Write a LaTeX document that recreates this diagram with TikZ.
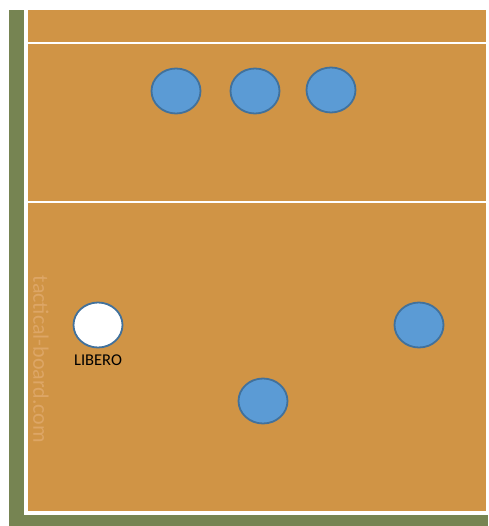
\documentclass[tikz,border=0pt]{standalone}
\usepackage{fontspec}
\setmainfont{Carlito}
\usetikzlibrary{shapes.geometric,positioning}
\definecolor{court}{RGB}{208,148,69}
\definecolor{courtmark}{RGB}{221,166,102}
\definecolor{surround}{RGB}{118,132,82}
\definecolor{playerfill}{RGB}{91,155,213}
\definecolor{playerline}{RGB}{65,113,156}
\begin{document}
\begin{tikzpicture}[x=1pt,y=-1pt]
	% styles
	\tikzstyle{player} += [ellipse,draw=playerline,line width=1.8pt,fill=playerfill,
		minimum width=49pt,minimum height=45pt,inner sep=0pt]
	\tikzstyle{libero} += [player,fill=white]
	\tikzstyle{courtline} += [draw=white,line width=2pt]
	
	% bounding box
	\fill[white] (0,0) rectangle (488,526);
	
	% surround, border line and court
	\fill[surround] (9,10) rectangle (488,526);
	\fill[white] (24,10) rectangle (488,515);
	\fill[court] (28,10) rectangle (486,511);
	
	% court lines
	\coordinate (al) at (28,43);
	\coordinate (ar) at (486,43);
	\coordinate (nl) at (28,202);
	\coordinate (nr) at (486,202);
	\path[courtline] (al) -- (ar);
	\path[courtline] (nl) -- (nr);
	
	% watermark
	\node[rotate=-90,text=courtmark,font=\fontsize{22}{22}\selectfont] (mark) at (41,359.5) {tactical-board.com};
	
	% players
	\node[player] (p1) at (176,91) {};
	\node[player] (p2) at (255,91) {};
	\node[player] (p3) at (331,90) {};
	\node[player] (p4) at (419,325) {};
	\node[player] (p5) at (263,401) {};
	\node[libero] (lib) at (98,325) {};
	\node[below=6.5pt of lib,inner sep=0pt,font=\fontsize{16.5}{16.5}\selectfont] (libtext) {LIBERO};
\end{tikzpicture}
\end{document}
